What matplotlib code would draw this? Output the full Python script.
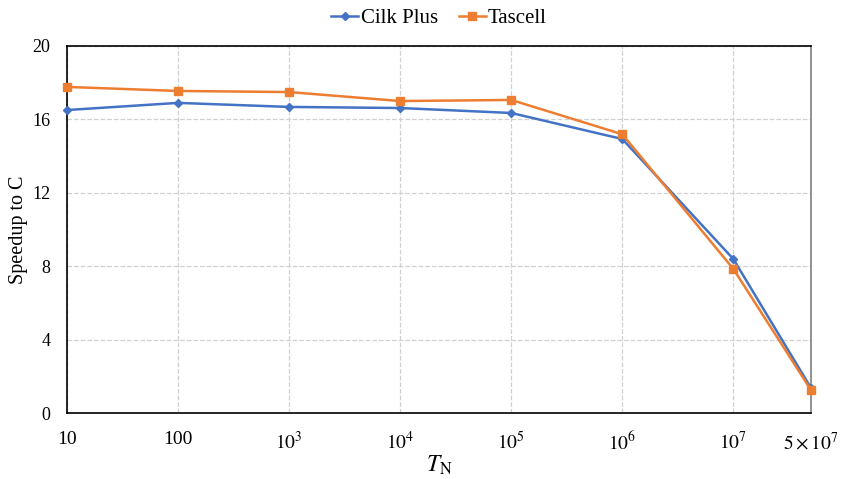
import numpy as np
import matplotlib
matplotlib.use("Agg")
import matplotlib.pyplot as plt

plt.rcParams['font.family'] = ['Liberation Serif', 'DejaVu Serif']
plt.rcParams['mathtext.fontset'] = 'stix'

tn = [10, 100, 1e3, 1e4, 1e5, 1e6, 1e7, 5e7]
tick_labels = ['10', '100', r'$10^3$', r'$10^4$', r'$10^5$', r'$10^6$', r'$10^7$', r'$5\times10^7$']
cilk = [16.51, 16.9, 16.68, 16.62, 16.35, 14.93, 8.39, 1.36]
tascell = [17.77, 17.55, 17.49, 17.0, 17.06, 15.19, 7.85, 1.25]

fig = plt.figure(figsize=(8.43, 4.79), dpi=100)
ax = fig.add_axes([67/843, 1-413/479, (811-67)/843, (413-46)/479])

ax.plot(tn, cilk, color='#4472C4', marker='D', markersize=4.5, linewidth=1.8,
        label='Cilk Plus', clip_on=False, zorder=3)
ax.plot(tn, tascell, color='#ED7D31', marker='s', markersize=5.5, linewidth=1.8,
        label='Tascell', clip_on=False, zorder=3)

ax.set_xscale('log')
ax.set_xlim(10, 5e7)
ax.set_ylim(0, 20)
ax.set_xticks(tn)
ax.set_xticklabels(tick_labels, fontsize=14)
ax.minorticks_off()
ax.set_yticks([0, 4, 8, 12, 16, 20])
ax.tick_params(axis='y', labelsize=13, length=0, pad=12)
ax.tick_params(axis='x', length=0, pad=13)
ax.grid(True, color='#D0D0D0', linestyle='--', linewidth=0.9)
ax.set_axisbelow(True)

for s in ['left', 'bottom', 'top']:
    ax.spines[s].set_color('black')
    ax.spines[s].set_linewidth(1.2)
ax.spines['right'].set_color('#808080')
ax.spines['right'].set_linewidth(1.2)

ax.set_ylabel('Speedup to C', fontsize=14.5)
ax.yaxis.set_label_coords(-0.052, 0.5)
ax.set_xlabel(r'$T_{\mathrm{N}}$', fontsize=17, labelpad=0)

ax.legend(loc='lower center', bbox_to_anchor=(0.5, 1.02), ncol=2, frameon=False,
          fontsize=15, handlelength=1.3, handletextpad=0.1, columnspacing=1.0,
          borderaxespad=0.1)

fig.savefig('out.png', dpi=100)
